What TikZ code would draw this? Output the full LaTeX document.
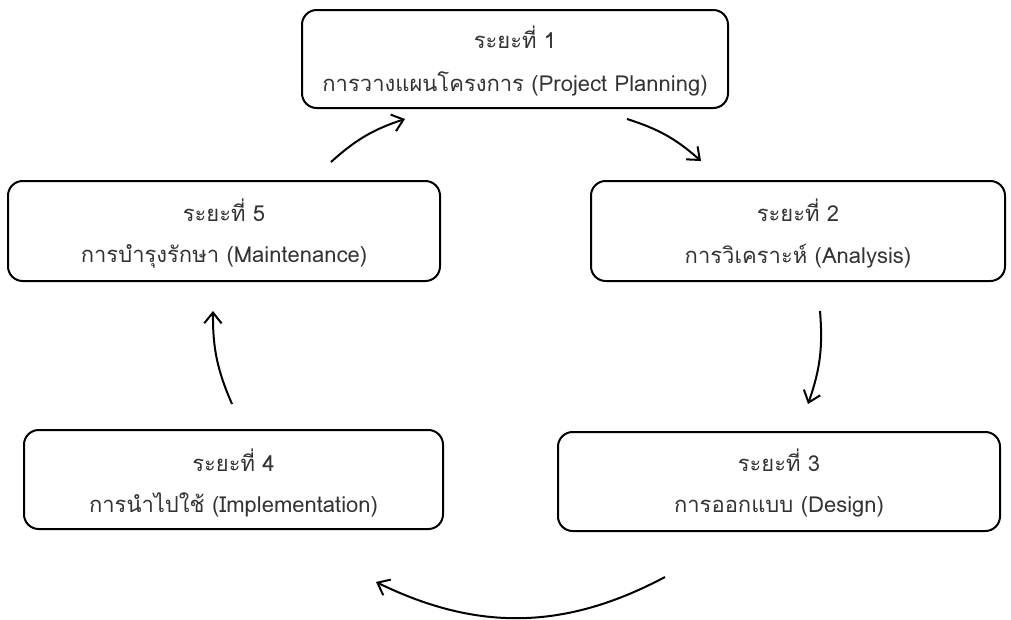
\documentclass[tikz,border=0pt]{standalone}
\usepackage{fontspec}
\newfontfamily\thaifont[Script=Thai]{Loma}
\usetikzlibrary{arrows.meta}
\tikzset{
  phase/.style={draw=black, line width=1.5pt, rounded corners=11pt, inner sep=0pt},
  label/.style={font=\thaifont\fontsize{16.5}{18}\selectfont, text=black!80, inner sep=0pt},
  flow/.style={line width=1.5pt, -{Straight Barb[length=8pt,width=13pt,line width=1.5pt]}},
}
\begin{document}
\begin{tikzpicture}[x=0.75pt,y=-0.75pt]
\useasboundingbox (0,0) rectangle (1011,619);
% phase boxes
\node[phase, minimum width=319.5pt, minimum height=73.5pt] (p1) at (515,59) {};
\node[phase, minimum width=324pt, minimum height=75pt] (p5) at (224,231) {};
\node[phase, minimum width=310.5pt, minimum height=75pt] (p2) at (798,231) {};
\node[phase, minimum width=314.25pt, minimum height=74.25pt] (p4) at (233.5,479.5) {};
\node[phase, minimum width=331.5pt, minimum height=74.25pt] (p3) at (779,481.5) {};
% labels
\node[label] (t1a) at (515,37) {ระยะที่ 1};
\node[label] (t1b) at (515,84) {การวางแผนโครงการ (Project Planning)};
\node[label] (t5a) at (224,210) {ระยะที่ 5};
\node[label] (t5b) at (224,256) {การบำรุงรักษา (Maintenance)};
\node[label] (t2a) at (798,210) {ระยะที่ 2};
\node[label] (t2b) at (798,256) {การวิเคราะห์ (Analysis)};
\node[label] (t4a) at (233.5,460) {ระยะที่ 4};
\node[label] (t4b) at (233.5,505) {การนำไปใช้ (Implementation)};
\node[label] (t3a) at (779,460) {ระยะที่ 3};
\node[label] (t3b) at (779,507) {การออกแบบ (Design)};
% arrow end points
\coordinate (a51) at (331,162);
\coordinate (b51) at (405,119);
\coordinate (a12) at (627,119);
\coordinate (b12) at (701,161);
\coordinate (a23) at (820,311);
\coordinate (b23) at (808,404);
\coordinate (a34) at (665,577);
\coordinate (b34) at (376,582);
\coordinate (a45) at (232,404);
\coordinate (b45) at (213,311);
% cycle arrows
\draw[flow] (a51) to[bend left=12] (b51);
\draw[flow] (a12) to[bend left=12] (b12);
\draw[flow] (a23) to[bend left=12] (b23);
\draw[flow] (a34) to[bend left=27] (b34);
\draw[flow] (a45) to[bend left=12] (b45);
\end{tikzpicture}
\end{document}
